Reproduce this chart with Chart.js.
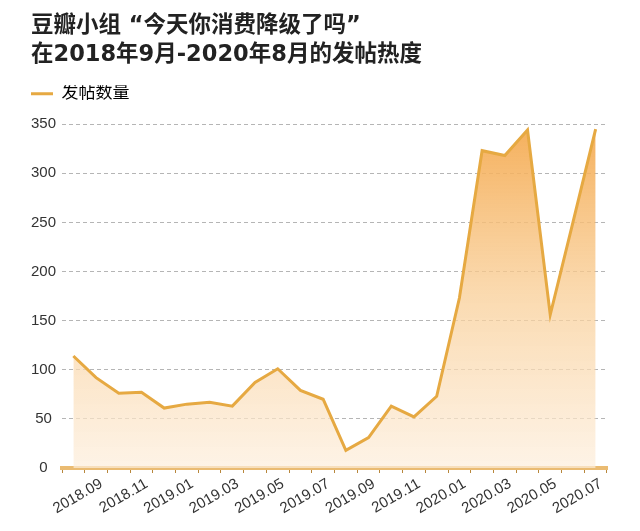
<!DOCTYPE html>
<html>
<head>
<meta charset="utf-8">
<script src="https://cdn.jsdelivr.net/npm/chart.js@4.4.1/dist/chart.umd.min.js"></script>
<style>
  html, body { margin: 0; padding: 0; background: #fff; }
  #wrap { width: 640px; height: 531px; position: relative; }
</style>
</head>
<body>
<div id="wrap"><canvas id="chart"></canvas></div>
<script>
// 月份 (2018.09 - 2020.08)
const months = [
  '2018.09', '2018.10', '2018.11', '2018.12',
  '2019.01', '2019.02', '2019.03', '2019.04', '2019.05', '2019.06',
  '2019.07', '2019.08', '2019.09', '2019.10', '2019.11', '2019.12',
  '2020.01', '2020.02', '2020.03', '2020.04', '2020.05', '2020.06',
  '2020.07', '2020.08'
];
// 发帖数量
const postCounts = [
  114, 92, 76, 77,
  61, 65, 67, 63, 87, 101,
  79, 70, 18, 31, 63, 52,
  73, 173, 323, 318, 344, 156,
  250, 345
];
const yTicks = [0, 50, 100, 150, 200, 250, 300, 350];
const titleLines = ['豆瓣小组 “今天你消费降级了吗”', '在2018年9月-2020年8月的发帖热度'];
const seriesName = '发帖数量';

const fontFamily = "'Liberation Sans', 'Noto Sans CJK SC', sans-serif";
const titleFamily = "'DejaVu Sans', 'Noto Sans CJK SC', sans-serif";
const lineColor = '#e6a942';

document.addEventListener('DOMContentLoaded', function() {
  let ctx = document.getElementById('chart').getContext('2d');

  // 渐变填充，按图表区域计算
  function areaGradient(context) {
    let chart = context.chart;
    let area = chart.chartArea;
    if (!area) return 'rgba(247,190,120,0.4)';
    let g = chart.ctx.createLinearGradient(0, area.top, 0, area.bottom);
    g.addColorStop(0, 'rgba(244,168,76,0.92)');
    g.addColorStop(0.5, 'rgba(249,206,150,0.75)');
    g.addColorStop(1, 'rgba(253,238,220,0.7)');
    return g;
  }

  // 图例下方留出空白
  let legendSpacer = {
    id: 'legendSpacer',
    beforeInit(chart) {
      let fit = chart.legend.fit;
      chart.legend.fit = function() {
        fit.bind(chart.legend)();
        this.height += 12;
      };
    }
  };

  new Chart(ctx, {
    type: 'line',
    data: {
      labels: months,
      datasets: [{
        label: seriesName,
        data: postCounts,
        borderColor: lineColor,
        borderWidth: 3,
        backgroundColor: areaGradient,
        fill: 'origin',
        pointRadius: 0,
        tension: 0
      }]
    },
    plugins: [legendSpacer],
    options: {
      responsive: true,
      maintainAspectRatio: false,
      animation: false,
      layout: { padding: { left: 31, right: 33, top: 6, bottom: 0 } },
      plugins: {
        tooltip: { enabled: false },
        title: {
          display: true,
          text: titleLines,
          align: 'start',
          color: '#222',
          font: { family: titleFamily, size: 22.5, weight: 'bold', lineHeight: 1.27 },
          padding: { top: 6, bottom: 16 }
        },
        legend: {
          display: true,
          position: 'top',
          align: 'start',
          labels: {
            boxWidth: 22,
            boxHeight: 3,
            padding: 0,
            color: '#555',
            font: { family: fontFamily, size: 17 },
            generateLabels: function(chart) {
              return [{
                text: seriesName,
                fillStyle: lineColor,
                strokeStyle: lineColor,
                lineWidth: 0,
                datasetIndex: 0
              }];
            }
          }
        }
      },
      scales: {
        x: {
          type: 'category',
          offset: true,
          afterFit: function(scale) { scale.height = 63; },
          grid: {
            display: true,
            offset: true,
            drawOnChartArea: false,
            drawTicks: true,
            tickLength: 5,
            color: '#b8873c',
            lineWidth: 1
          },
          border: { display: true, color: '#eabb72', width: 4 },
          ticks: {
            autoSkip: false,
            minRotation: 30,
            maxRotation: 30,
            labelOffset: 28,
            padding: 2,
            color: '#333',
            font: { family: fontFamily, size: 15 },
            callback: function(value, index) {
              return index % 2 === 0 ? months[index] : '';
            }
          }
        },
        y: {
          min: yTicks[0],
          max: yTicks[yTicks.length - 1],
          afterFit: function(scale) { scale.width = 31; },
          afterBuildTicks: function(scale) {
            scale.ticks = yTicks.map(v => ({ value: v }));
          },
          grid: {
            color: '#b5b5b5',
            lineWidth: 1,
            drawTicks: false
          },
          border: { display: false, dash: [4, 3] },
          ticks: {
            padding: 6,
            crossAlign: 'center',
            color: '#333',
            font: { family: fontFamily, size: 15 }
          }
        }
      }
    }
  });
});
</script>
</body>
</html>
